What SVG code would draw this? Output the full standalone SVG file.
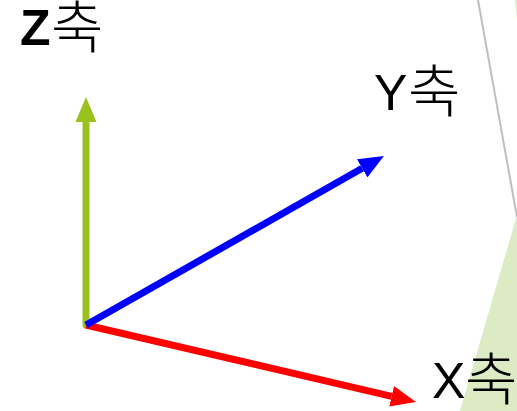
<svg xmlns="http://www.w3.org/2000/svg" width="517" height="411" viewBox="0 0 517 411">
<style>
.lbl{font-family:"Liberation Sans",sans-serif;font-size:50px;fill:#000}
.hg{font-family:"Noto Sans CJK KR","Noto Sans CJK SC",sans-serif;font-size:57px;font-weight:300}
.ax{stroke-width:7;fill:none}
</style>
<defs>
<marker id="hg" viewBox="0 0 25 21" refX="0" refY="10.5" markerWidth="25" markerHeight="21" markerUnits="userSpaceOnUse" orient="auto"><path d="M0,0L25,10.5L0,21z" fill="#9AC21F"/></marker>
<marker id="hb" viewBox="0 0 25 21" refX="0" refY="10.5" markerWidth="25" markerHeight="21" markerUnits="userSpaceOnUse" orient="auto"><path d="M0,0L25,10.5L0,21z" fill="#0000FF"/></marker>
<marker id="hr" viewBox="0 0 25 21" refX="0" refY="10.5" markerWidth="25" markerHeight="21" markerUnits="userSpaceOnUse" orient="auto"><path d="M0,0L25,10.5L0,21z" fill="#FF0000"/></marker>
</defs>
<rect width="517" height="411" fill="#fff"/>
<g id="background">
<polygon points="517,215 460,411 517,411" fill="#DCEBC4"/>
<polygon points="515,0 517,0 517,20" fill="#DCEBC4"/>
<line x1="478" y1="0" x2="517" y2="217" stroke="#BFBFBF" stroke-width="2"/>
</g>
<g id="connectors">
<line class="ax" x1="86" y1="325" x2="86" y2="122" stroke="#9AC21F" stroke-linecap="round" marker-end="url(#hg)"/>
<line class="ax" x1="86" y1="325" x2="391.6" y2="396.3" stroke="#FF0000" marker-end="url(#hr)"/>
<line class="ax" x1="86" y1="325" x2="362.2" y2="168.3" stroke="#0000FF" marker-end="url(#hb)"/>
</g>
<g id="z-label"><text class="lbl" x="20" y="45" font-weight="bold">Z<tspan class="hg" x="51" y="48">축</tspan></text></g>
<g id="y-label"><text class="lbl" x="374" y="110">Y<tspan class="hg" x="408" y="112">축</tspan></text></g>
<g id="x-label"><text class="lbl" x="432" y="398">X<tspan class="hg" x="465" y="400">축</tspan></text></g>
</svg>
